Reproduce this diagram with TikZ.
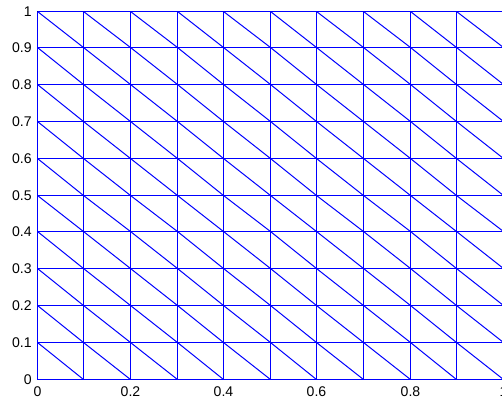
\documentclass[tikz,border=0pt]{standalone}
\usepackage{fontspec}
\setmainfont{Liberation Sans}
\definecolor{meshblue}{RGB}{0,0,255}
\begin{document}
\begin{tikzpicture}[x=0.02cm,y=-0.02cm,
    mesh/.style={draw=meshblue,line width=0.02cm},
    ticklab/.style={font=\fontsize{8}{9}\selectfont,inner sep=0pt}]
  \fill[white] (0,0) rectangle (502,400);
  \useasboundingbox (0,0) rectangle (502,400);
  % mesh points (pixel aligned)
  \foreach \i/\c in {0/37.5,1/83.5,2/130.5,3/177.5,4/223.5,5/270.5,6/316.5,7/363.5,8/410.5,9/456.5,10/503.5}
    \foreach \j/\r in {0/379.5,1/342.5,2/305.5,3/268.5,4/231.5,5/195.5,6/158.5,7/121.5,8/84.5,9/47.5,10/11.5}
      \coordinate (p\i-\j) at (\c,\r);
  \draw[black,line width=0.02cm] (p0-0) rectangle (p10-10);
  % grid lines
  \foreach \i in {0,...,10} {
    \draw[mesh] (p\i-0) -- (p\i-10);
    \draw[mesh] (p0-\i) -- (p10-\i);
  }
  % diagonals
  \foreach \i [count=\ii] in {0,...,9}
    \foreach \j [count=\jj] in {0,...,9}
      \draw[mesh] (p\i-\jj) -- (p\ii-\j);
  % tick labels
  \foreach \v/\t in {0/0,1/0.1,2/0.2,3/0.3,4/0.4,5/0.5,6/0.6,7/0.7,8/0.8,9/0.9,10/1}
    \node[ticklab,anchor=east,xshift=-0.11cm] (ylab\v) at (p0-\v) {\t};
  \foreach \v/\t in {0/0,2/0.2,4/0.4,6/0.6,8/0.8,10/1}
    \node[ticklab,anchor=north,yshift=-0.14cm] (xlab\v) at (p\v-0) {\t};
\end{tikzpicture}
\end{document}
